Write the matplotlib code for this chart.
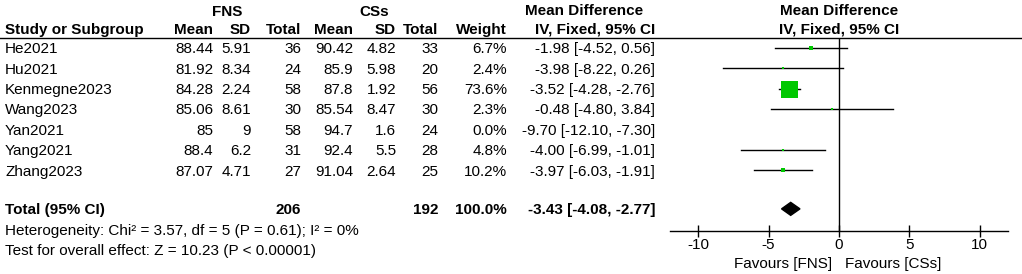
import matplotlib
matplotlib.use("Agg")
import matplotlib.pyplot as plt
from matplotlib.lines import Line2D

plt.rcParams['font.family'] = ['Liberation Sans', 'DejaVu Sans']

# study level data (FNS vs CSs)
studies = ["He2021", "Hu2021", "Kenmegne2023", "Wang2023", "Yan2021", "Yang2021", "Zhang2023"]
fns_mean = [88.44, 81.92, 84.28, 85.06, 85, 88.4, 87.07]
fns_sd = [5.91, 8.34, 2.24, 8.61, 9, 6.2, 4.71]
fns_n = [36, 24, 58, 30, 58, 31, 27]
css_mean = [90.42, 85.9, 87.8, 85.54, 94.7, 92.4, 91.04]
css_sd = [4.82, 5.98, 1.92, 8.47, 1.6, 5.5, 2.64]
css_n = [33, 20, 56, 30, 24, 28, 25]
weight = [6.7, 2.4, 73.6, 2.3, 0.0, 4.8, 10.2]
md = [-1.98, -3.98, -3.52, -0.48, -9.70, -4.00, -3.97]
ci_lo = [-4.52, -8.22, -4.28, -4.80, -12.10, -6.99, -6.03]
ci_hi = [0.56, 0.26, -2.76, 3.84, -7.30, -1.01, -1.91]

# pooled result
total_fns, total_css = 206, 192
pooled_md, pooled_lo, pooled_hi = -3.43, -4.08, -2.77
heterogeneity = "Heterogeneity: Chi\u00b2 = 3.57, df = 5 (P = 0.61); I\u00b2 = 0%"
overall = "Test for overall effect: Z = 10.23 (P < 0.00001)"
xticks = [-10, -5, 0, 5, 10]

W, H = 1022, 274
fig = plt.figure(figsize=(W / 100, H / 100), dpi=100)

FS = 11
ROW0, STEP = 47.7, 20.4   # pixel y of first study row and row spacing
TOTAL_ROW = 7.9


def txt(x, y, s, ha='left', bold=False, **kw):
    # place text using pixel coordinates of the image
    fig.text(x / W, 1 - y / H, s, ha=ha, va='center', fontsize=FS,
             fontweight='bold' if bold else 'normal', **kw)


def row_y(r):
    return ROW0 + STEP * r + 1.5


# header
txt(227, 12, "FNS", ha='center', bold=True)
txt(374, 12, "CSs", ha='center', bold=True)
txt(584, 11, "Mean Difference", ha='center', bold=True)
txt(839, 11, "Mean Difference", ha='center', bold=True)
hy = 30
txt(5, hy, "Study or Subgroup", bold=True)
cols = [213, 251, 301, 353, 396, 438, 507]
for x, s in zip(cols, ["Mean", "SD", "Total", "Mean", "SD", "Total", "Weight"]):
    txt(x, hy, s, ha='right', bold=True)
txt(655, hy, "IV, Fixed, 95% CI", ha='right', bold=True)
txt(839, hy, "IV, Fixed, 95% CI", ha='center', bold=True)

fig.add_artist(Line2D([0, 1], [1 - 38 / H, 1 - 38 / H], color='black', lw=1.0,
                      transform=fig.transFigure))

# study rows
for i, name in enumerate(studies):
    y = row_y(i)
    txt(5, y, name)
    vals = [f"{fns_mean[i]:g}", f"{fns_sd[i]:g}", f"{fns_n[i]}",
            f"{css_mean[i]:g}", f"{css_sd[i]:g}", f"{css_n[i]}",
            f"{weight[i]:.1f}%"]
    for x, s in zip(cols, vals):
        txt(x, y, s, ha='right')
    txt(655, y, f"{md[i]:.2f} [{ci_lo[i]:.2f}, {ci_hi[i]:.2f}]", ha='right')

# totals
ty = row_y(TOTAL_ROW)
txt(5, ty, "Total (95% CI)", bold=True)
txt(cols[2], ty, str(total_fns), ha='right', bold=True)
txt(cols[5], ty, str(total_css), ha='right', bold=True)
txt(cols[6], ty, f"{sum(weight):.1f}%", ha='right', bold=True)
txt(655, ty, f"{pooled_md:.2f} [{pooled_lo:.2f}, {pooled_hi:.2f}]", ha='right', bold=True)
txt(5, 231, heterogeneity)
txt(5, 251, overall)

# forest panel
top_px, bot_px = 38, 231
ax = fig.add_axes([670 / W, 1 - bot_px / H, (1008 - 670) / W, (bot_px - top_px) / H])
ax.set_xlim(-12, 12)
ax.set_ylim((bot_px - ROW0) / STEP, (top_px - ROW0) / STEP)
ax.patch.set_alpha(0)
for s in ['top', 'right', 'left']:
    ax.spines[s].set_visible(False)
ax.spines['bottom'].set_linewidth(1.0)
ax.set_yticks([])
ax.set_xticks(xticks)
ax.set_xticklabels([f"{t:g}" for t in xticks], fontsize=FS)
ax.tick_params(axis='x', direction='inout', length=8, width=1.0, pad=1)
ax.axvline(0, color='black', lw=1.0)

for i in range(len(studies)):
    if weight[i] <= 0:
        continue
    ax.plot([ci_lo[i], ci_hi[i]], [i, i], color='black', lw=1.0, zorder=2)
    side = max(2.0, 17 * (weight[i] / max(weight)) ** 0.7)
    ax.plot(md[i], i, marker='s', ms=side * 0.72, mew=0, color='#00c800', zorder=3)

h = 6.5 / STEP
ax.fill([pooled_lo, pooled_md, pooled_hi, pooled_md],
        [TOTAL_ROW, TOTAL_ROW + h, TOTAL_ROW, TOTAL_ROW - h], color='black', zorder=3)

txt(832, 264, "Favours [FNS]", ha='right')
txt(845, 264, "Favours [CSs]", ha='left')

fig.savefig("out.png", dpi=100)
